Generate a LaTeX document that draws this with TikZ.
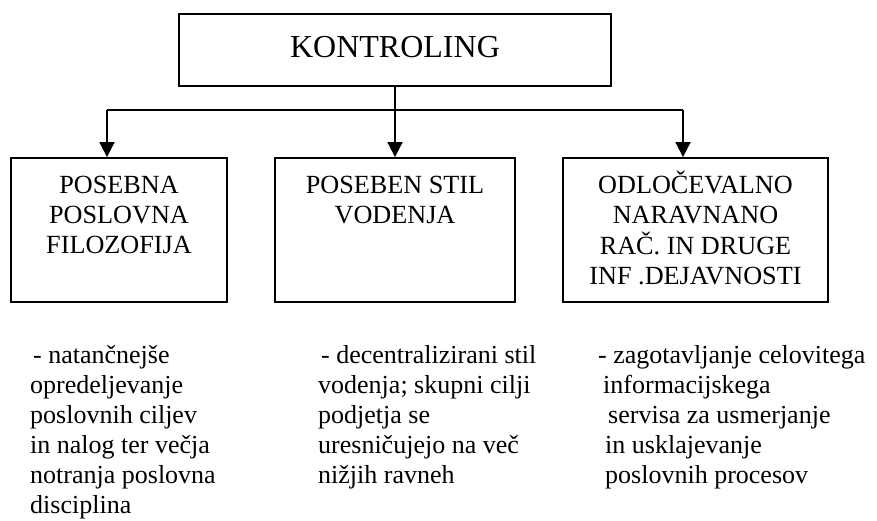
\documentclass[tikz,border=0pt]{standalone}
\usepackage{fontspec}
\setmainfont{Liberation Serif}
\usetikzlibrary{arrows.meta}
% strut that fixes the top of a text block 24pt above its first baseline
\newcommand{\firststrut}{\rule{0pt}{24pt}}
\begin{document}
\begin{tikzpicture}[x=1pt, y=-1pt,
  box/.style={draw, line width=1.8pt, inner sep=0pt},
  boxtext/.style={anchor=north, align=center, inner sep=0pt,
    font=\fontsize{26.2}{30.4}\selectfont},
  note/.style={anchor=north west, align=left, inner sep=0pt,
    font=\fontsize{26}{30}\selectfont},
  link/.style={line width=1.8pt},
  arr/.style={link, -{Triangle[length=15pt, width=15pt]}}]
\useasboundingbox (0,0) rectangle (877,521);

% top box
\node[box, minimum width=432pt, minimum height=72pt,
      text height=24pt, text depth=8pt,
      font=\fontsize{32}{38}\selectfont] (top) at (395,50) {KONTROLING};

% second level boxes
\node[box, minimum width=216pt, minimum height=144pt] (b1) at (119,230) {};
\node[box, minimum width=240pt, minimum height=144pt] (b2) at (395,230) {};
\node[box, minimum width=265pt, minimum height=144pt] (b3) at (695.5,230) {};

% box texts, first baseline at y = 193
\node[boxtext] (t1) at (b1.north |- 0,169) {\firststrut POSEBNA\\POSLOVNA\\FILOZOFIJA};
\node[boxtext] (t2) at (b2.north |- 0,169) {\firststrut POSEBEN STIL\\VODENJA};
\node[boxtext] (t3) at (b3.north |- 0,169) {\firststrut ODLOČEVALNO\\NARAVNANO\\RAČ. IN DRUGE\\INF .DEJAVNOSTI};

% connectors
\coordinate (j1) at (107,110);
\coordinate (j3) at (683,110);
\draw[link] (j1) -- (j3);
\draw[arr] (top.south) -- (b2.north);
\draw[arr] (j1) -- (j1 |- b1.north);
\draw[arr] (j3) -- (j3 |- b3.north);

% descriptions, first baseline at y = 363
\node[note] (n1) at (30,339) {\firststrut\hspace*{3pt}- natančnejše\\opredeljevanje\\poslovnih ciljev\\in nalog ter večja\\notranja poslovna\\disciplina};
\node[note] (n2) at (318,339) {\firststrut\hspace*{3pt}- decentralizirani stil\\vodenja; skupni cilji\\podjetja se\\uresničujejo na več\\nižjih ravneh};
\node[note] (n3) at (598,339) {\firststrut- zagotavljanje celovitega\\\hspace*{5pt}informacijskega\\\hspace*{10pt}servisa za usmerjanje\\\hspace*{7pt}in usklajevanje\\\hspace*{7pt}poslovnih procesov};
\end{tikzpicture}
\end{document}
